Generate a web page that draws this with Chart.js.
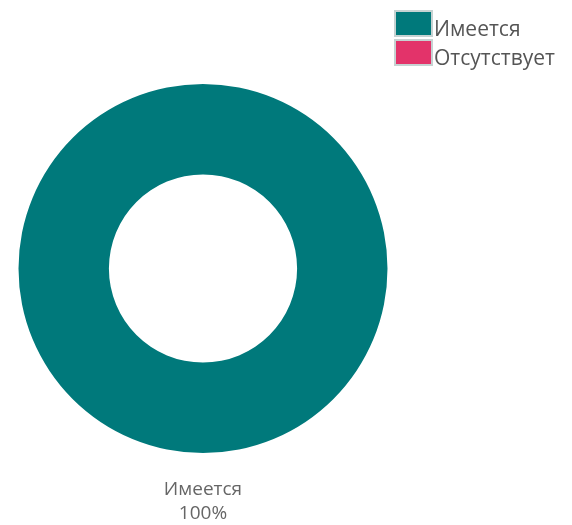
<!DOCTYPE html>
<html><head><meta charset="utf-8">
<script src="https://cdn.jsdelivr.net/npm/chart.js@4/dist/chart.umd.min.js"></script>
<style>html,body{margin:0;padding:0;background:#fff;}#wrap{width:572px;height:525px;position:relative;}</style>
</head><body><div id="wrap"><canvas id="c" width="572" height="525"></canvas></div>
<script>
const categories = ["Имеется", "Отсутствует"];
const values = [100, 0];
const colors = ["#00797B", "#E3336A"];

const total = values.reduce((a,b)=>a+b,0);

const customLegend = {
  id: 'customLegend',
  afterDraw(chart) {
    const ctx = chart.ctx;
    ctx.save();
    ctx.font = '21px "Open Sans", sans-serif';
    ctx.textBaseline = 'alphabetic';
    ctx.textAlign = 'left';
    categories.forEach((c, i) => {
      const y = 10 + i * 29;
      ctx.fillStyle = colors[i];
      ctx.fillRect(396, y + 2, 35, 23);
      ctx.strokeStyle = '#c6d2d2';
      ctx.lineWidth = 2;
      ctx.strokeRect(395, y + 1, 37, 25);
      ctx.fillStyle = '#555';
      ctx.fillText(c, 434, y + 26);
    });
    // outside labels
    const meta = chart.getDatasetMeta(0);
    ctx.font = '19px "Open Sans", sans-serif';
    ctx.textBaseline = 'middle';
    ctx.fillStyle = '#666';
    ctx.textAlign = 'center';
    meta.data.forEach((arc, i) => {
      if (!values[i]) return;
      const x = arc.x, yb = arc.y + arc.outerRadius;
      ctx.fillText(categories[i], x, yb + 37);
      ctx.fillText(Math.round(values[i] / total * 100) + '%', x, yb + 61);
    });
    ctx.restore();
  }
};

new Chart(document.getElementById('c'), {
  type: 'doughnut',
  data: { labels: categories, datasets: [{ data: values, backgroundColor: colors, borderWidth: 0 }] },
  options: {
    responsive: false,
    animation: false,
    cutout: '51%',
    layout: { padding: { left: 18, right: 184, top: 84, bottom: 72 } },
    plugins: { legend: { display: false }, tooltip: { enabled: false } }
  },
  plugins: [customLegend]
});
</script></body></html>
